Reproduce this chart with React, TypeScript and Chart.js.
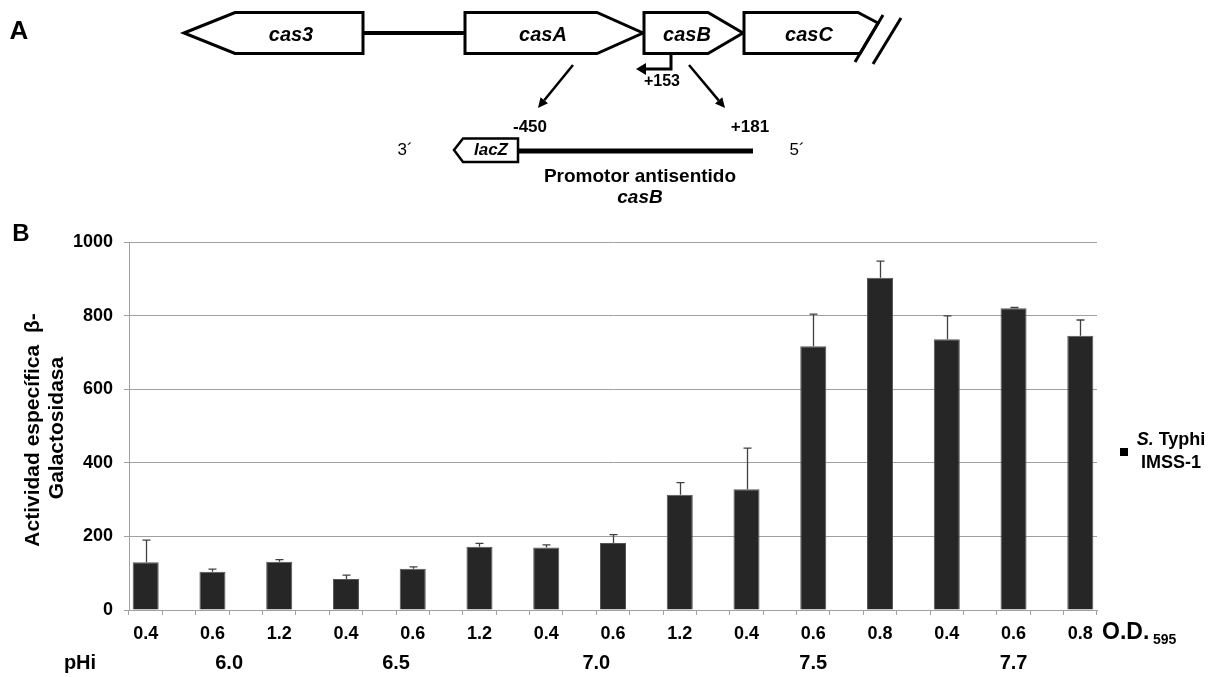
import React, { useEffect, useRef } from 'react';
import { Chart, registerables } from 'chart.js';

Chart.register(...registerables);

// ---- data ----
const odLabels = ['0.4', '0.6', '1.2', '0.4', '0.6', '1.2', '0.4', '0.6', '1.2', '0.4', '0.6', '0.8', '0.4', '0.6', '0.8'];
const activity = [130, 104, 131, 84, 112, 172, 170, 182, 313, 328, 717, 903, 736, 820, 745];
const errorUp = [60, 7, 6, 11, 5, 9, 7, 23, 33, 112, 87, 45, 63, 2, 43];
const phLabels = ['6.0', '6.5', '7.0', '7.5', '7.7'];
const phSlot = [2.5, 7.5, 13.5, 20, 26];
const yTicks = [0, 200, 400, 600, 800, 1000];
const seriesName = ['S. Typhi', 'IMSS-1'];

// interleave with empty slots (bars sit on every other category)
const slotLabels: string[] = [];
const slotValues: (number | null)[] = [];
const slotErrors: (number | null)[] = [];
odLabels.forEach((l, i) => {
  slotLabels.push(l);
  slotValues.push(activity[i]);
  slotErrors.push(errorUp[i]);
  if (i < odLabels.length - 1) {
    slotLabels.push('');
    slotValues.push(null);
    slotErrors.push(null);
  }
});

const FONT = '"Liberation Sans", Arial, sans-serif';
const GRID = '#a0a0a0';

function poly(ctx: CanvasRenderingContext2D, pts: number[][], lw: number, fill = '#fff') {
  ctx.beginPath();
  ctx.moveTo(pts[0][0], pts[0][1]);
  for (let i = 1; i < pts.length; i++) ctx.lineTo(pts[i][0], pts[i][1]);
  ctx.closePath();
  ctx.fillStyle = fill;
  ctx.fill();
  ctx.lineWidth = lw;
  ctx.strokeStyle = '#000';
  ctx.lineJoin = 'miter';
  ctx.stroke();
}

function line(ctx: CanvasRenderingContext2D, x1: number, y1: number, x2: number, y2: number, lw: number) {
  ctx.beginPath();
  ctx.moveTo(x1, y1);
  ctx.lineTo(x2, y2);
  ctx.lineWidth = lw;
  ctx.strokeStyle = '#000';
  ctx.stroke();
}

function arrow(ctx: CanvasRenderingContext2D, x1: number, y1: number, x2: number, y2: number, lw: number, head: number) {
  const a = Math.atan2(y2 - y1, x2 - x1);
  const bx = x2 - Math.cos(a) * head * 0.9;
  const by = y2 - Math.sin(a) * head * 0.9;
  line(ctx, x1, y1, bx, by, lw);
  ctx.beginPath();
  ctx.moveTo(x2, y2);
  ctx.lineTo(x2 - Math.cos(a - 0.45) * head, y2 - Math.sin(a - 0.45) * head);
  ctx.lineTo(x2 - Math.cos(a + 0.45) * head, y2 - Math.sin(a + 0.45) * head);
  ctx.closePath();
  ctx.fillStyle = '#000';
  ctx.fill();
}

function text(ctx: CanvasRenderingContext2D, s: string, x: number, y: number, font: string, align: CanvasTextAlign = 'center') {
  ctx.font = font;
  ctx.fillStyle = '#000';
  ctx.textAlign = align;
  ctx.textBaseline = 'middle';
  ctx.fillText(s, x, y);
}

const decorPlugin = {
  id: 'decor',
  afterDatasetsDraw(chart: any) {
    const ctx: CanvasRenderingContext2D = chart.ctx;
    const ys = chart.scales.y;
    // error bars
    const meta = chart.getDatasetMeta(0);
    ctx.save();
    ctx.strokeStyle = '#404040';
    ctx.lineWidth = 1.3;
    meta.data.forEach((el: any, i: number) => {
      const v = slotValues[i];
      const e = slotErrors[i];
      if (v == null || e == null) return;
      const x = Math.round(el.x) + 0.5;
      const y0 = ys.getPixelForValue(v);
      const y1 = ys.getPixelForValue(v + e);
      ctx.beginPath();
      ctx.moveTo(x, y0);
      ctx.lineTo(x, y1);
      ctx.moveTo(x - 4, y1);
      ctx.lineTo(x + 4, y1);
      ctx.stroke();
    });
    ctx.restore();
  },
  afterDraw(chart: any) {
    const ctx: CanvasRenderingContext2D = chart.ctx;
    const xs = chart.scales.x;
    ctx.save();
    const B = 'bold ';

    // panel letters
    text(ctx, 'A', 19, 32, B + '26px ' + FONT);
    text(ctx, 'B', 21, 234, B + '24px ' + FONT);

    // ---- panel A diagram ----
    line(ctx, 363, 33, 466, 33, 4);
    poly(ctx, [[184, 33], [235, 12.5], [363, 12.5], [363, 53.5], [235, 53.5]], 3);
    poly(ctx, [[465, 12.5], [597, 12.5], [643, 33], [597, 53.5], [465, 53.5]], 3);
    poly(ctx, [[644, 12.5], [708, 12.5], [743, 33], [708, 53.5], [644, 53.5]], 3);
    poly(ctx, [[744, 12.5], [858, 12.5], [878, 23], [860, 53.5], [744, 53.5]], 3);
    line(ctx, 855, 62, 883, 15, 3);
    line(ctx, 873, 64, 901, 18, 3);
    const GI = 'italic bold 20px ' + FONT;
    text(ctx, 'cas3', 291, 35, GI);
    text(ctx, 'casA', 543, 35, GI);
    text(ctx, 'casB', 687, 35, GI);
    text(ctx, 'casC', 809, 35, GI);

    // promoter arrow
    ctx.beginPath();
    ctx.moveTo(671, 53.5);
    ctx.lineTo(671, 69);
    ctx.lineTo(645, 69);
    ctx.lineWidth = 3;
    ctx.strokeStyle = '#000';
    ctx.stroke();
    ctx.beginPath();
    ctx.moveTo(636, 69);
    ctx.lineTo(646, 63);
    ctx.lineTo(646, 75);
    ctx.closePath();
    ctx.fillStyle = '#000';
    ctx.fill();
    text(ctx, '+153', 662, 82, B + '16px ' + FONT);

    arrow(ctx, 573, 65, 538, 108, 2.5, 11);
    arrow(ctx, 689, 65, 725, 108, 2.5, 11);

    text(ctx, '-450', 530, 127, B + '17px ' + FONT);
    text(ctx, '+181', 750, 127, B + '17px ' + FONT);
    text(ctx, '3´', 405, 150, '17px ' + FONT);
    text(ctx, '5´', 797, 150, '17px ' + FONT);
    line(ctx, 516, 151, 753, 151, 5);
    poly(ctx, [[454, 150], [463, 138.5], [518, 138.5], [518, 162], [463, 162]], 2.5);
    text(ctx, 'lacZ', 491, 150.5, 'italic bold 17px ' + FONT);
    text(ctx, 'Promotor antisentido', 640, 177, B + '19px ' + FONT);
    text(ctx, 'casB', 640, 198, 'italic bold 19px ' + FONT);

    // ---- panel B extras ----
    // y axis title
    ctx.save();
    ctx.translate(33, 430);
    ctx.rotate(-Math.PI / 2);
    text(ctx, 'Actividad específica  β-', 0, 0, B + '21px ' + FONT);
    ctx.restore();
    ctx.save();
    ctx.translate(57, 428);
    ctx.rotate(-Math.PI / 2);
    text(ctx, 'Galactosidasa', 0, 0, B + '21px ' + FONT);
    ctx.restore();

    // pHi row
    text(ctx, 'pHi', 80, 663, B + '20px ' + FONT);
    phLabels.forEach((l, i) => {
      text(ctx, l, xs.getPixelForValue(phSlot[i]), 663, B + '20px ' + FONT);
    });

    // O.D. 595
    text(ctx, 'O.D.', xs.right + 5, 633, B + '23px ' + FONT, 'left');
    text(ctx, '595', xs.right + 56, 640, B + '14px ' + FONT, 'left');

    // legend
    ctx.fillStyle = '#000';
    ctx.fillRect(1120, 448, 8, 8);
    ctx.font = 'italic bold 18px ' + FONT;
    const sW = ctx.measureText('S.').width;
    ctx.font = B + '18px ' + FONT;
    const restW = ctx.measureText(' Typhi').width;
    const tot = sW + restW;
    const cx = 1171;
    text(ctx, 'S.', cx - tot / 2, 440, 'italic bold 18px ' + FONT, 'left');
    text(ctx, ' Typhi', cx - tot / 2 + sW, 440, B + '18px ' + FONT, 'left');
    text(ctx, seriesName[1], cx, 463, B + '18px ' + FONT);

    ctx.restore();
  },
};

export default function App() {
  const ref = useRef<HTMLCanvasElement>(null);
  useEffect(() => {
    if (!ref.current) return;
    const chart = new Chart(ref.current, {
      type: 'bar',
      data: {
        labels: slotLabels,
        datasets: [
          {
            label: seriesName.join(' '),
            data: slotValues,
            backgroundColor: '#262626',
            borderColor: '#555',
            borderWidth: 1,
            barPercentage: 0.78,
            categoryPercentage: 1,
          },
        ],
      },
      options: {
        animation: false,
        responsive: false,
        maintainAspectRatio: false,
        layout: { padding: { left: 0, top: 242, right: 118, bottom: 0 } },
        plugins: { legend: { display: false }, tooltip: { enabled: false } },
        scales: {
          x: {
            type: 'category',
            offset: true,
            afterFit: (s: any) => {
              s.height = 67;
            },
            border: { color: GRID, width: 1 },
            grid: { offset: true, drawOnChartArea: false, color: GRID, tickLength: 5, lineWidth: 1 },
            ticks: {
              autoSkip: false,
              maxRotation: 0,
              minRotation: 0,
              padding: 8,
              color: '#000',
              font: { family: FONT, size: 18, weight: 'bold' },
            },
          },
          y: {
            min: 0,
            max: 1000,
            afterFit: (s: any) => {
              s.width = 129;
            },
            afterBuildTicks: (s: any) => {
              s.ticks = yTicks.map((v) => ({ value: v }));
            },
            border: { color: GRID, width: 1 },
            grid: { color: GRID, tickLength: 5, lineWidth: 1 },
            ticks: {
              padding: 11,
              color: '#000',
              font: { family: FONT, size: 18, weight: 'bold' },
              callback: (v: any) => String(v),
            },
          },
        },
      },
      plugins: [decorPlugin],
    } as any);
    return () => chart.destroy();
  }, []);
  return (
    <div style={{ position: 'fixed', left: 0, top: 0, width: 1215, height: 677, background: '#fff' }}>
      <canvas ref={ref} width={1215} height={677} style={{ width: 1215, height: 677, display: 'block' }} />
    </div>
  );
}
